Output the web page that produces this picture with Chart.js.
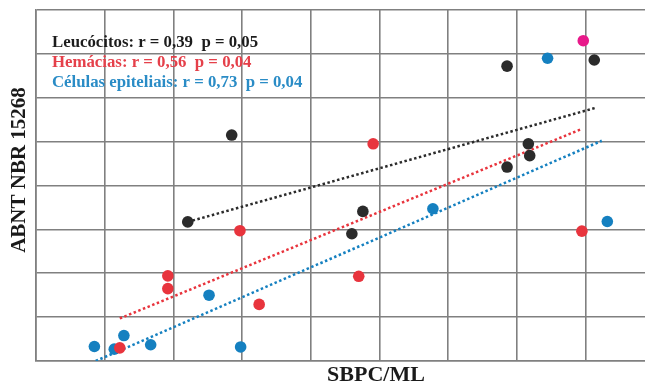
<!DOCTYPE html>
<html>
<head>
<meta charset="utf-8">
<title>SBPC/ML x ABNT NBR 15268</title>
<script src="https://cdn.jsdelivr.net/npm/chart.js@4.4.1/dist/chart.umd.min.js"></script>
<style>
    html, body { margin: 0; padding: 0; background: #fff; overflow: hidden; }
    #wrap { width: 670px; height: 386px; }
</style>
</head>
<body>
<div id="wrap"><canvas id="chart" width="670" height="386"></canvas></div>
<script>
// values (x = SBPC/ML, y = ABNT NBR 15268)
const leucoX = [2.21, 2.85, 4.60, 4.76, 6.86, 7.17, 7.19, 6.86, 8.13];
const leucoY = [3.17, 5.15, 2.90, 3.41, 4.42, 4.95, 4.68, 6.72, 6.86];
const hemaX = [1.22, 1.92, 1.92, 3.25, 2.97, 4.91, 4.70, 7.95];
const hemaY = [0.30, 1.94, 1.65, 1.29, 2.97, 4.95, 1.93, 2.96];
const epiX = [0.85, 1.14, 1.28, 1.67, 2.52, 2.98, 5.78, 7.45, 8.32];
const epiY = [0.33, 0.27, 0.58, 0.37, 1.50, 0.32, 3.47, 6.90, 3.18];
const pinkX = [7.97];
const pinkY = [7.30];

// trend lines (start / end)
const leucoTrendX = [2.21, 8.15];
const leucoTrendY = [3.17, 5.77];
const hemaTrendX = [1.22, 7.95];
const hemaTrendY = [0.97, 5.29];
const epiTrendX = [0.87, 8.24];
const epiTrendY = [0.00, 5.02];

const legendLines = [
    'Leucócitos: r = 0,39  p = 0,05',
    'Hemácias: r = 0,56  p = 0,04',
    'Células epiteliais: r = 0,73  p = 0,04'
];
const xTitle = 'SBPC/ML';
const yTitle = 'ABNT NBR 15268';

const black = '#2b2b2b';
const red = '#e8343d';
const blue = '#1580c0';
const pink = '#e8198a';

function pts(xs, ys) {
    return xs.map((x, i) => ({ x: x, y: ys[i] }));
}

function trend(xs, ys, color) {
    return {
        type: 'line',
        data: pts(xs, ys),
        borderColor: color,
        borderWidth: 2.5,
        borderDash: [2.5, 2.5],
        pointRadius: 0,
        fill: false,
        order: 2
    };
}

function dots(xs, ys, color) {
    return {
        type: 'scatter',
        data: pts(xs, ys),
        backgroundColor: color,
        borderColor: color,
        pointRadius: 5.8,
        pointBorderWidth: 0,
        order: 1
    };
}

const textPlugin = {
    id: 'texts',
    afterDraw(chart) {
        const ctx = chart.ctx;
        const a = chart.chartArea;
        ctx.save();
        ctx.textBaseline = 'middle';
        ctx.textAlign = 'left';
        ctx.font = 'bold 16.8px "Liberation Serif"';
        const colors = ['#1c1c1c', '#e5404a', '#2a8cc6'];
        legendLines.forEach((t, i) => {
            ctx.fillStyle = colors[i];
            ctx.fillText(t, a.left + 16, a.top + 33 + i * 20);
        });
        ctx.fillStyle = '#1a1a1a';
        ctx.font = 'bold 22px "Liberation Serif"';
        ctx.textAlign = 'center';
        ctx.fillText(xTitle, 376, a.bottom + 14);
        ctx.font = 'bold 21px "Liberation Serif"';
        ctx.translate(20, 170);
        ctx.rotate(-Math.PI / 2);
        ctx.fillText(yTitle, 0, 0);
        ctx.restore();
    }
};

const bgPlugin = {
    id: 'bg',
    beforeDraw(chart) {
        const ctx = chart.ctx;
        ctx.save();
        ctx.fillStyle = '#fff';
        ctx.fillRect(0, 0, chart.width, chart.height);
        ctx.restore();
    }
};

const gridColor = '#808080';

new Chart(document.getElementById('chart'), {
    type: 'scatter',
    data: {
        datasets: [
            trend(leucoTrendX, leucoTrendY, black),
            trend(hemaTrendX, hemaTrendY, red),
            trend(epiTrendX, epiTrendY, blue),
            dots(leucoX, leucoY, black),
            dots(hemaX, hemaY, red),
            dots(epiX, epiY, blue),
            dots(pinkX, pinkY, pink)
        ]
    },
    options: {
        responsive: false,
        animation: false,
        layout: { padding: { left: 36, right: 16, top: 10, bottom: 25 } },
        plugins: {
            legend: { display: false },
            tooltip: { enabled: false }
        },
        scales: {
            x: {
                type: 'linear',
                min: 0,
                max: 9,
                ticks: { display: false, stepSize: 1 },
                grid: { color: gridColor, lineWidth: 1.6, drawTicks: false },
                border: { color: gridColor, width: 1.6 }
            },
            y: {
                type: 'linear',
                min: 0,
                max: 8,
                ticks: { display: false, stepSize: 1 },
                grid: { color: gridColor, lineWidth: 1.6, drawTicks: false },
                border: { color: gridColor, width: 1.6 }
            }
        }
    },
    plugins: [bgPlugin, textPlugin]
});
</script>
</body>
</html>
